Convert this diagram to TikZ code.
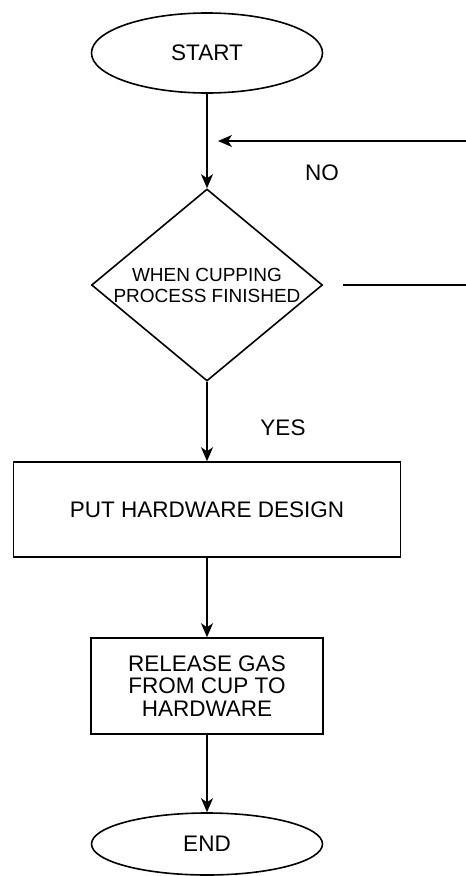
\documentclass[tikz,border=0pt]{standalone}
\usepackage{fontspec}
\setmainfont{Liberation Sans}
\usepackage{tikz}
\usetikzlibrary{shapes.geometric,arrows.meta}
\tikzset{
  termnode/.style={ellipse,draw=black,line width=1.6pt,minimum width=231pt,
    inner sep=0pt,font=\fontsize{22.5}{22.5}\selectfont},
  decnode/.style={diamond,draw=black,line width=1.6pt,minimum width=231pt,
    minimum height=192pt,inner sep=0pt},
  dectext/.style={align=center,inner sep=0pt,font=\fontsize{19}{21}\selectfont},
  procnode/.style={rectangle,draw=black,line width=1.6pt,inner sep=0pt,
    align=center,font=\fontsize{22.5}{22.5}\selectfont},
  labelnode/.style={inner sep=0pt,font=\fontsize{22.5}{22.5}\selectfont},
  flowedge/.style={line width=1.6pt,-{Stealth[length=14pt,width=12pt,inset=4pt]}},
  plainedge/.style={line width=1.6pt}
}
\begin{document}
\begin{tikzpicture}[x=1pt,y=-1pt]
  \useasboundingbox (0,0) rectangle (466,876);

  \node[termnode,minimum height=80pt] (start) at (207,53) {START};
  \node[decnode] (dec) at (207,285) {};
  \node[dectext] (dectxt) at (dec.center) {WHEN CUPPING\\PROCESS FINISHED};
  \node[procnode,minimum width=387pt,minimum height=95pt] (put) at (207,509.5)
    {PUT HARDWARE DESIGN};
  \node[procnode,minimum width=232pt,minimum height=96pt] (rel) at (207,686)
    {RELEASE GAS\\FROM CUP TO\\HARDWARE};
  \node[termnode,minimum height=62pt] (stop) at (207,844) {END};

  \node[labelnode] (no) at (322,173) {NO};
  \node[labelnode] (yes) at (283,428) {YES};

  \coordinate (loopin) at (466,141);
  \coordinate (looptip) at (218,141);
  \coordinate (loopout) at (466,285);

  \draw[flowedge] (start) -- (dec);
  \draw[flowedge] (loopin) -- (looptip);
  \draw[plainedge] ([xshift=20pt]dec.east) -- (loopout);
  \draw[flowedge] (dec) -- (put);
  \draw[flowedge] (put) -- (rel);
  \draw[flowedge] (rel) -- (stop);
\end{tikzpicture}
\end{document}
